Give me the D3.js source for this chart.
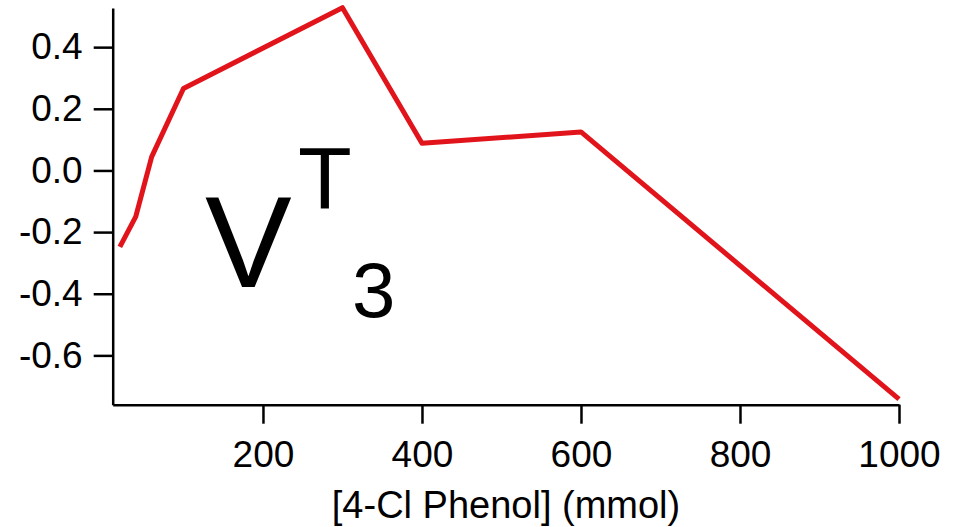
<!DOCTYPE html>
<html>
  <head>
    <meta charset="utf-8">
    <script src="https://d3js.org/d3.v7.min.js"></script>
    <style>
      body { margin: 0; background: #fff; }
      svg { display: block; font-family: "Liberation Sans", Arial, sans-serif; }
      .axis path, .axis line { stroke: #000; stroke-width: 2.5px; }
      .axis text { font-size: 37px; fill: #000; }
    </style>
  </head>
  <body>
    <div id="chart"></div>
    <script>
      // [4-Cl Phenol] (mmol) vs V3T
      const conc = [20, 40, 60, 100, 300, 400, 600, 1000];
      const v3t = [-0.248, -0.150, 0.044, 0.266, 0.528, 0.088, 0.125, -0.742];
      const xTicks = [200, 400, 600, 800, 1000];
      const yTicks = [-0.6, -0.4, -0.2, 0.0, 0.2, 0.4];

      const width = 972;
      const height = 527;

      const svg = d3
        .select("#chart")
        .append("svg")
        .attr("width", width)
        .attr("height", height);

      const x = d3.scaleLinear().domain([11, 1000]).range([112.7, 899]);
      const y = d3.scaleLinear().domain([-0.76, 0.527]).range([404.7, 8]);

      const xAxis = d3
        .axisBottom(x)
        .tickValues(xTicks)
        .tickSize(19)
        .tickSizeOuter(0)
        .tickPadding(17)
        .tickFormat(d3.format("d"));

      const yAxis = d3
        .axisLeft(y)
        .tickValues(yTicks)
        .tickSize(19)
        .tickSizeOuter(0)
        .tickPadding(11)
        .tickFormat(d3.format(".1f"));

      svg
        .append("g")
        .attr("class", "axis")
        .attr("transform", `translate(0,${y.range()[0]})`)
        .call(xAxis);

      svg
        .append("g")
        .attr("class", "axis")
        .attr("transform", `translate(${x.range()[0]},0)`)
        .call(yAxis);

      // D3 uses a unicode minus; the reference shows a plain hyphen
      svg.selectAll(".axis text").text(function () {
        return this.textContent.replace("\u2212", "-");
      });

      const line = d3
        .line()
        .x((d, i) => x(conc[i]))
        .y((d) => y(d));

      svg
        .append("path")
        .datum(v3t)
        .attr("fill", "none")
        .attr("stroke", "#e2141b")
        .attr("stroke-width", 5)
        .attr("stroke-linejoin", "round")
        .attr("d", line);

      svg
        .append("text")
        .attr("x", 506)
        .attr("y", 518)
        .attr("text-anchor", "middle")
        .style("font-size", "38px")
        .text("[4-Cl Phenol] (mmol)");

      // V with superscript T and subscript 3
      svg.append("text").attr("x", 205).attr("y", 287).style("font-size", "130px").text("V");
      svg.append("text").attr("x", 298).attr("y", 208).style("font-size", "88px").text("T");
      svg.append("text").attr("x", 352).attr("y", 317).style("font-size", "78px").text("3");
    </script>
  </body>
</html>
